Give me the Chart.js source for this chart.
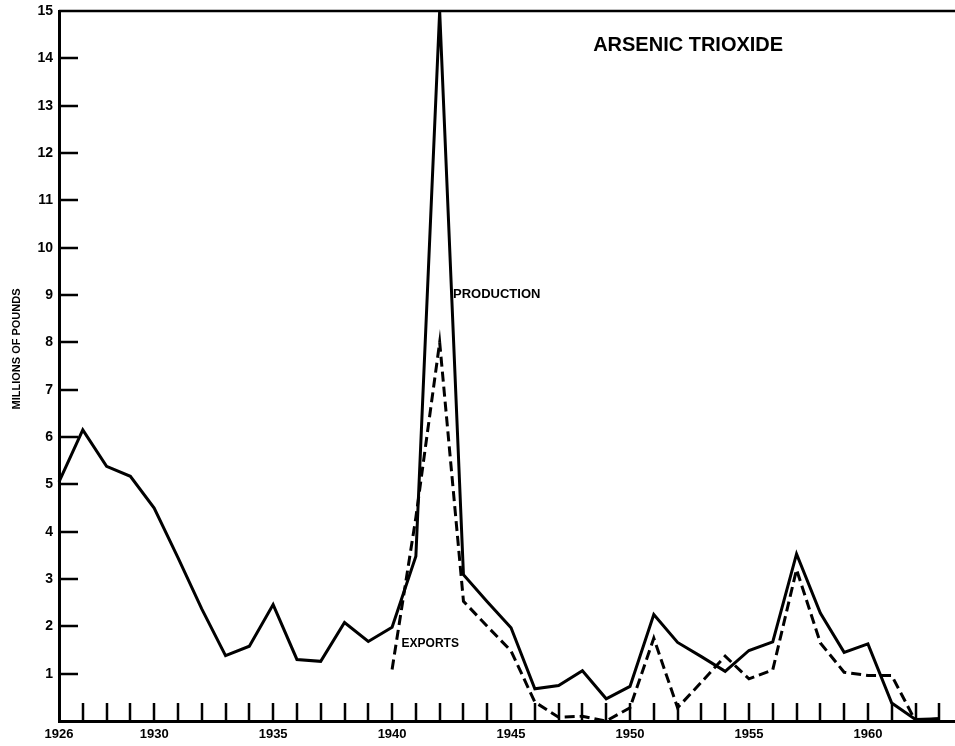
<!DOCTYPE html>
<html>
<head>
<meta charset="utf-8">
<script src="https://cdn.jsdelivr.net/npm/chart.js@4/dist/chart.umd.min.js"></script>
<style>
  html, body { margin: 0; padding: 0; background: #fff; }
  #wrap { width: 955px; height: 746px; }
</style>
</head>
<body>
<div id="wrap"><canvas id="chart"></canvas></div>
<script>
// Arsenic trioxide, millions of pounds
const years = [1926, 1927, 1928, 1929, 1930, 1931, 1932, 1933, 1934, 1935,
               1936, 1937, 1938, 1939, 1940, 1941, 1942, 1943, 1944, 1945,
               1946, 1947, 1948, 1949, 1950, 1951, 1952, 1953, 1954, 1955,
               1956, 1957, 1958, 1959, 1960, 1961, 1962, 1963];
const production = [5.05, 6.15, 5.38, 5.17, 4.5, 3.45, 2.37, 1.38, 1.58, 2.46,
                    1.3, 1.26, 2.08, 1.68, 1.98, 3.48, 15.0, 3.09, 2.52, 1.97,
                    0.68, 0.75, 1.06, 0.47, 0.73, 2.25, 1.66, 1.36, 1.05, 1.49,
                    1.67, 3.53, 2.28, 1.45, 1.63, 0.38, 0.03, 0.05];
const exportsData = [null, null, null, null, null, null, null, null, null, null,
                     null, null, null, null, 1.09, 4.3, 8.0, 2.53, 2.0, 1.48,
                     0.4, 0.08, 0.1, 0.0, 0.28, 1.75, 0.28, 0.82, 1.37, 0.89,
                     1.08, 3.2, 1.65, 1.03, 0.96, 0.96, 0.0, 0.05];
const yTickValues = [1, 2, 3, 4, 5, 6, 7, 8, 9, 10, 11, 12, 13, 14];
const labeledYears = [1926, 1930, 1935, 1940, 1945, 1950, 1955, 1960];

const FONT = "'Liberation Sans', Arial, sans-serif";

const toPoints = arr => years.map((yr, i) => ({ x: yr, y: arr[i] }));

// inward ticks, top rule and the text notes
const decor = {
    id: 'decor',
    afterDraw(chart) {
        const { ctx, chartArea: a, scales: { x, y } } = chart;
        ctx.save();
        ctx.strokeStyle = '#000';
        ctx.lineWidth = 2.5;
        ctx.beginPath();
        ctx.moveTo(a.left, a.top);
        ctx.lineTo(a.right, a.top);
        yTickValues.forEach(v => {
            const py = Math.round(y.getPixelForValue(v));
            ctx.moveTo(a.left, py);
            ctx.lineTo(a.left + 19, py);
        });
        years.slice(1).forEach(yr => {
            const px = Math.round(x.getPixelForValue(yr));
            ctx.moveTo(px, a.bottom);
            ctx.lineTo(px, a.bottom - 18);
        });
        ctx.stroke();

        ctx.fillStyle = '#000';
        ctx.textAlign = 'left';
        ctx.textBaseline = 'alphabetic';
        ctx.font = 'bold 20px ' + FONT;
        ctx.fillText('ARSENIC TRIOXIDE', x.getPixelForValue(1948.45), y.getPixelForValue(14.15));
        ctx.font = 'bold 13px ' + FONT;
        ctx.fillText('PRODUCTION', x.getPixelForValue(1942.56), y.getPixelForValue(8.93));
        ctx.font = 'bold 12px ' + FONT;
        ctx.fillText('EXPORTS', x.getPixelForValue(1940.4), y.getPixelForValue(1.57));

        ctx.translate(a.left - 42, y.getPixelForValue(7.86));
        ctx.rotate(-Math.PI / 2);
        ctx.textAlign = 'center';
        ctx.textBaseline = 'middle';
        ctx.font = 'bold 11px ' + FONT;
        ctx.fillText('MILLIONS OF POUNDS', 0, 0);
        ctx.restore();
    }
};

new Chart(document.getElementById('chart'), {
    type: 'line',
    data: {
        datasets: [
            {
                label: 'Production',
                data: toPoints(production),
                borderColor: '#000',
                borderWidth: 3,
                pointRadius: 0,
                tension: 0,
                clip: false
            },
            {
                label: 'Exports',
                data: toPoints(exportsData),
                borderColor: '#000',
                borderWidth: 3,
                borderDash: [10, 5],
                pointRadius: 0,
                tension: 0,
                spanGaps: false,
                clip: false
            }
        ]
    },
    options: {
        responsive: true,
        maintainAspectRatio: false,
        animation: false,
        devicePixelRatio: 1,
        layout: { padding: { top: 11, right: 0, left: 0, bottom: 0 } },
        plugins: {
            legend: { display: false },
            tooltip: { enabled: false }
        },
        scales: {
            x: {
                type: 'linear',
                min: 1926,
                max: 1963.66,
                afterFit: s => { s.height = 25; s.paddingRight = 0; s.paddingLeft = 0; },
                grid: { display: false, drawTicks: false },
                border: { display: true, color: '#000', width: 3 },
                ticks: {
                    stepSize: 1,
                    autoSkip: false,
                    maxRotation: 0,
                    padding: 6,
                    color: '#000',
                    font: { family: FONT, size: 13, weight: 'bold' },
                    callback: v => labeledYears.includes(v) ? String(v) : ''
                }
            },
            y: {
                min: 0,
                max: 15,
                afterFit: s => { s.width = 59; s.paddingTop = 0; s.paddingBottom = 0; },
                grid: { display: false, drawTicks: false },
                border: { display: true, color: '#000', width: 3 },
                ticks: {
                    stepSize: 1,
                    padding: 6,
                    color: '#000',
                    font: { family: FONT, size: 14, weight: 'bold' },
                    callback: v => v === 0 ? '' : String(v)
                }
            }
        }
    },
    plugins: [decor]
});
</script>
</body>
</html>
